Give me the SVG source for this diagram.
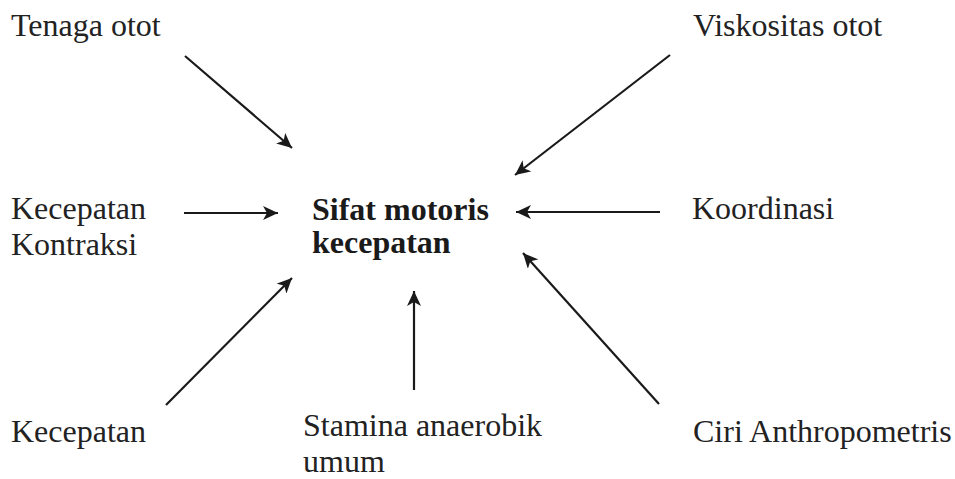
<svg xmlns="http://www.w3.org/2000/svg" width="955" height="479" viewBox="0 0 955 479">
<style>
text{font-family:"Liberation Serif","Times New Roman",serif;font-size:32px;fill:#222}
.b{font-weight:bold;fill:#1a1a1a}
.c line{stroke:#1a1a1a;stroke-width:2.2;fill:none;marker-end:url(#ah)}
</style>
<defs>
<marker id="ah" markerUnits="userSpaceOnUse" markerWidth="16" markerHeight="14" refX="15" refY="7" orient="auto">
<path d="M0,0 L15,7 L0,14 L4,7 z" fill="#1a1a1a"/>
</marker>
</defs>
<rect width="955" height="479" fill="#fff"/>
<g id="center"><text class="b" x="312" y="220">Sifat motoris</text><text class="b" x="312" y="253">kecepatan</text></g>
<g id="tenaga"><text x="11" y="36">Tenaga otot</text></g>
<g id="viskositas"><text x="693" y="36">Viskositas otot</text></g>
<g id="kontraksi"><text x="11" y="219">Kecepatan</text><text x="11" y="255">Kontraksi</text></g>
<g id="koordinasi"><text x="692" y="219">Koordinasi</text></g>
<g id="kecepatan"><text x="11" y="442">Kecepatan</text></g>
<g id="stamina"><text x="303" y="436">Stamina anaerobik</text><text x="303" y="472">umum</text></g>
<g id="ciri"><text x="693" y="442">Ciri Anthropometris</text></g>
<g class="c" id="connectors">
<line x1="185" y1="56" x2="292" y2="148"/>
<line x1="670" y1="55" x2="515" y2="175"/>
<line x1="184" y1="213" x2="278" y2="213"/>
<line x1="660" y1="212" x2="516" y2="212"/>
<line x1="166" y1="405" x2="292" y2="278"/>
<line x1="414" y1="390" x2="414" y2="291"/>
<line x1="659" y1="404" x2="523" y2="253"/>
</g>
</svg>
